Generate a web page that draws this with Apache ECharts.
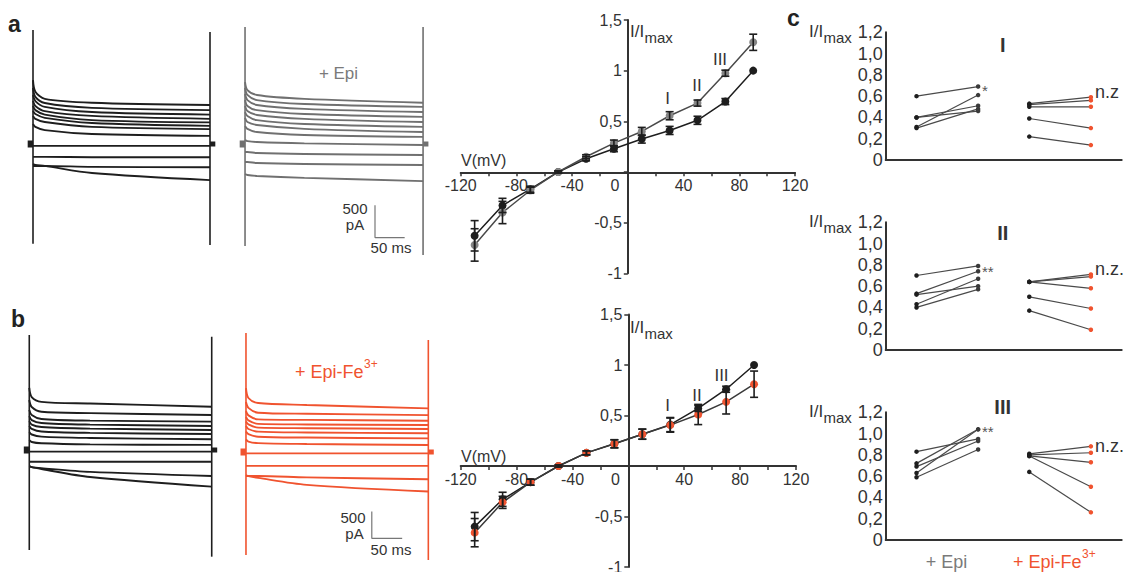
<!DOCTYPE html>
<html><head><meta charset="utf-8">
<script src="https://cdn.jsdelivr.net/npm/echarts@6/dist/echarts.min.js"></script>
<style>html,body{margin:0;padding:0;background:#fff}#c{width:1123px;height:572px}</style>
</head><body><div id="c"></div>
<script>
const FONT = '"Liberation Sans", Arial, Helvetica, sans-serif';

// ---------- I-V curves (normalised current I/Imax vs V in mV) ----------
const voltages = [-110, -90, -70, -50, -30, -10, 10, 30, 50, 70, 90];
const ivA_control    = [-0.63, -0.33, -0.17, 0.0, 0.13, 0.23, 0.325, 0.41, 0.51, 0.695, 1.0];
const ivA_controlErr = [0.15, 0.07, 0.03, 0.01, 0.02, 0.03, 0.04, 0.04, 0.04, 0.03, 0];
const ivA_epi        = [-0.72, -0.40, -0.18, 0.0, 0.15, 0.285, 0.40, 0.555, 0.68, 0.975, 1.28];
const ivA_epiErr     = [0.16, 0.11, 0.03, 0.01, 0.02, 0.03, 0.04, 0.04, 0.03, 0.03, 0.08];
const ivB_control    = [-0.60, -0.33, -0.16, 0.0, 0.13, 0.22, 0.315, 0.41, 0.57, 0.76, 1.0];
const ivB_controlErr = [0.14, 0.07, 0.03, 0.01, 0.02, 0.04, 0.05, 0.07, 0.03, 0.03, 0];
const ivB_fe         = [-0.66, -0.36, -0.16, 0.0, 0.13, 0.22, 0.315, 0.405, 0.51, 0.635, 0.81];
const ivB_feErr      = [0.14, 0.06, 0.03, 0.01, 0.02, 0.04, 0.05, 0.07, 0.10, 0.12, 0.13];

// ---------- current traces (pA) sampled at these times (ms) ----------
const traceTimes = [0, 4, 20, 100, 300];
const tracesA_control = [
  [990, 810, 700, 640, 605], [870, 730, 635, 560, 525], [760, 665, 575, 495, 455],
  [665, 590, 510, 435, 390], [590, 525, 455, 370, 335], [510, 465, 405, 325, 280],
  [435, 390, 340, 265, 230], [310, 265, 215, 155, 125], [-30, -30, -30, -30, -30],
  [-200, -200, -200, -205, -205], [-340, -340, -340, -355, -360], [-310, -325, -340, -450, -560]
];
const tracesA_epi = [
  [960, 835, 760, 700, 640], [870, 760, 680, 620, 575], [775, 680, 605, 545, 495],
  [680, 590, 525, 465, 420], [590, 510, 450, 390, 340], [495, 435, 370, 310, 265],
  [405, 340, 295, 235, 185], [280, 235, 185, 140, 110], [60, 45, 30, 10, -15],
  [-125, -125, -140, -155, -170], [-280, -280, -295, -310, -325], [-465, -480, -495, -525, -575]
];
const tracesB_control = [
  [1160, 990, 900, 870, 810], [935, 805, 715, 690, 655], [750, 655, 580, 550, 530],
  [635, 560, 505, 475, 450], [540, 475, 430, 400, 375], [450, 395, 345, 320, 300],
  [335, 290, 250, 225, 200], [185, 150, 125, 105, 95], [-30, -30, -30, -30, -30],
  [-220, -220, -220, -220, -220], [-300, -320, -340, -410, -485], [-300, -320, -355, -505, -685]
];
const tracesB_fe = [
  [1195, 1010, 915, 880, 815], [935, 825, 735, 715, 690], [765, 685, 610, 600, 585],
  [655, 590, 525, 515, 505], [570, 515, 455, 445, 430], [485, 430, 380, 365, 350],
  [385, 335, 285, 270, 255], [235, 195, 165, 150, 130], [-25, -25, -25, -25, -25],
  [-260, -260, -260, -260, -260], [-450, -450, -450, -475, -510], [-430, -450, -485, -615, -740]
];
// capacitive transients at step on (0 ms) and off (300 ms): [max, min] pA
const transA_control = [[1765, -1548], [1736, -1566]];
const transA_epi     = [[1814, -1581], [1814, -1721]];
const transB_control = [[2150, -1870], [2119, -1995]];
const transB_fe      = [[2225, -1926], [2094, -2020]];
const stepTimes = [0, 300];
const scaleBarMs = 50, scaleBarPA = 500;

// ---------- panel c: paired cells, I/Imax at the three voltages ----------
const cGroups = ['I', 'II', 'III'];
const cCategories = ['+ Epi', '+ Epi-Fe', '3+'];
const cI_epiBefore   = [0.60, 0.40, 0.40, 0.31, 0.30];
const cI_epiAfter    = [0.69, 0.51, 0.46, 0.61, 0.48];
const cI_feBefore    = [0.53, 0.52, 0.50, 0.39, 0.22];
const cI_feAfter     = [0.59, 0.56, 0.50, 0.30, 0.14];
const cII_epiBefore  = [0.70, 0.53, 0.52, 0.43, 0.40];
const cII_epiAfter   = [0.79, 0.74, 0.60, 0.67, 0.57];
const cII_feBefore   = [0.64, 0.64, 0.64, 0.50, 0.37];
const cII_feAfter    = [0.71, 0.69, 0.58, 0.39, 0.19];
const cIII_epiBefore = [0.83, 0.72, 0.69, 0.63, 0.59];
const cIII_epiAfter  = [0.95, 1.04, 0.93, 1.04, 0.85];
const cIII_feBefore  = [0.81, 0.80, 0.79, 0.79, 0.64];
const cIII_feAfter   = [0.88, 0.82, 0.73, 0.50, 0.26];
const cSignif = ['*', '**', '**'];
const cNZ = ['n.z', 'n.z.', 'n.z.'];

// ---------- layout / styles ----------
const BLACK = '#1e1e1e', GRAY = '#707070', ORANGE = '#f0532f', TXT = '#333';
const cPairX = [1, 2, 2.83, 3.83];

const grids = [
  {left: 27.1, top: 21.4, width: 188.8, height: 235.5},   // 0 trace a ctrl
  {left: 239.1, top: 21.4, width: 189.9, height: 235.5},  // 1 trace a epi
  {left: 23.2, top: 327, width: 194.6, height: 235.3},    // 2 trace b ctrl
  {left: 239.9, top: 329, width: 194.5, height: 235.3},   // 3 trace b fe
  {left: 460.7, top: 20, width: 334.3, height: 253.3},    // 4 IV a
  {left: 460.7, top: 314.5, width: 335.3, height: 252.5}, // 5 IV b
  {left: 885.7, top: 32.3, width: 236, height: 127.7},    // 6 c I
  {left: 885.7, top: 222.3, width: 236, height: 127.7},   // 7 c II
  {left: 885.7, top: 412.3, width: 236, height: 127.7}    // 8 c III
].map(g => Object.assign({outerBoundsMode: 'none', containLabel: false}, g));

const xAxes = [], yAxes = [];
const traceY = [[-1750, 1900], [-1750, 1900], [-2100, 2300], [-2100, 2300]];
for (let i = 0; i < 4; i++) {
  xAxes.push({gridIndex: i, type: 'value', min: -10, max: 310, show: false});
  yAxes.push({gridIndex: i, type: 'value', min: traceY[i][0], max: traceY[i][1], show: false});
}
const numFmt = v => String(v).replace('.', ',');
// the IV axes cross at the origin: shift each axis from the grid edge to the other axis' zero
const ivXOffset = [-101, -101], ivYOffset = [-167.1, -167.6];
for (let i = 4; i < 6; i++) {
  xAxes.push({
    gridIndex: i, type: 'value', min: -120, max: 120, interval: 20,
    position: 'bottom', offset: ivXOffset[i - 4],
    axisLine: {show: true, onZero: false, lineStyle: {color: TXT, width: 2}},
    axisTick: {show: true, length: 4, lineStyle: {color: TXT, width: 1.5}},
    splitLine: {show: false},
    axisLabel: {
      margin: 5, fontSize: 16, color: TXT, fontFamily: FONT,
      formatter: v => (v % 40 !== 0) ? '' : (v === 0 ? '{z|0}' : String(v)),
      rich: {z: {fontSize: 16, color: TXT, fontFamily: FONT, padding: [0, 26, 0, 0]}}
    }
  });
  yAxes.push({
    gridIndex: i, type: 'value', min: -1, max: 1.5, interval: 0.5,
    position: 'left', offset: ivYOffset[i - 4],
    axisLine: {show: true, onZero: false, lineStyle: {color: TXT, width: 2}},
    axisTick: {show: true, length: 4, lineStyle: {color: TXT, width: 1.5}},
    splitLine: {show: false},
    axisLabel: {margin: 6, fontSize: 16, color: TXT, fontFamily: FONT,
      formatter: v => v === 0 ? '' : numFmt(v)}
  });
}
for (let i = 6; i < 9; i++) {
  xAxes.push({gridIndex: i, type: 'value', min: 0.5, max: 4.33,
    axisLine: {show: true, onZero: false, lineStyle: {color: TXT, width: 2}},
    axisTick: {show: false}, axisLabel: {show: false}, splitLine: {show: false}});
  yAxes.push({gridIndex: i, type: 'value', min: 0, max: 1.2, interval: 0.2,
    axisLine: {show: true, lineStyle: {color: TXT, width: 2}},
    axisTick: {show: false}, splitLine: {show: false},
    axisLabel: {margin: 3, fontSize: 18, color: TXT, fontFamily: FONT,
      formatter: v => v === 0 ? '0' : v.toFixed(1).replace('.', ',')}});
}

const series = [];
function lineS(gi, data, color, width, extra) {
  series.push(Object.assign({type: 'line', xAxisIndex: gi, yAxisIndex: gi, data,
    symbol: 'none', silent: true, animation: false,
    lineStyle: {color, width}}, extra || {}));
}
function tracePanel(gi, traces, trans, color) {
  traces.forEach(tr => lineS(gi, traceTimes.map((t, k) => [t, tr[k]]), color, 1.9,
    {smooth: 0.3}));
  trans.forEach((tv, k) => lineS(gi, [[stepTimes[k], tv[0]], [stepTimes[k], tv[1]]], color, 1.6));
  lineS(gi, [[-9, 0], [stepTimes[0], 0]], color, 7);
  lineS(gi, [[stepTimes[1], 0], [309, 0]], color, 5);
}
tracePanel(0, tracesA_control, transA_control, BLACK);
tracePanel(1, tracesA_epi, transA_epi, GRAY);
tracePanel(2, tracesB_control, transB_control, BLACK);
tracePanel(3, tracesB_fe, transB_fe, ORANGE);
// scale bars
function scaleBar(gi, t0, p0) {
  lineS(gi, [[t0, p0 + scaleBarPA], [t0, p0], [t0 + scaleBarMs, p0]], '#777', 1.2);
}
scaleBar(1, 219, -1450);
scaleBar(3, 207, -1615);

function errRender(params, api) {
  const e = api.value(2);
  if (!e) return null;
  const x = api.value(0), y = api.value(1);
  const a = api.coord([x, y + e]), b = api.coord([x, y - e]);
  const st = {stroke: BLACK, lineWidth: 1.6};
  return {type: 'group', children: [
    {type: 'line', shape: {x1: a[0], y1: a[1], x2: b[0], y2: b[1]}, style: st},
    {type: 'line', shape: {x1: a[0] - 4, y1: a[1], x2: a[0] + 4, y2: a[1]}, style: st},
    {type: 'line', shape: {x1: b[0] - 4, y1: b[1], x2: b[0] + 4, y2: b[1]}, style: st}
  ]};
}
function ivS(gi, vals, errs, lineColor, markColor) {
  series.push({type: 'line', xAxisIndex: gi, yAxisIndex: gi, animation: false, silent: true,
    data: voltages.map((v, i) => [v, vals[i]]), symbol: 'circle', symbolSize: 8,
    itemStyle: {color: markColor}, lineStyle: {color: lineColor, width: 1.5}, z: 3});
  series.push({type: 'custom', xAxisIndex: gi, yAxisIndex: gi, animation: false, silent: true,
    data: voltages.map((v, i) => [v, vals[i], errs[i]]), renderItem: errRender, z: 4,
    encode: {x: 0, y: 1}});
}
ivS(4, ivA_control, ivA_controlErr, BLACK, BLACK);
ivS(4, ivA_epi, ivA_epiErr, '#4a4a4a', '#858585');
ivS(5, ivB_control, ivB_controlErr, BLACK, BLACK);
ivS(5, ivB_fe, ivB_feErr, '#3a3a3a', ORANGE);

function pairs(gi, x1, x2, before, after, cA) {
  before.forEach((b, i) => {
    series.push({type: 'line', xAxisIndex: gi, yAxisIndex: gi, animation: false, silent: true,
      symbol: 'circle', symbolSize: 4.5, lineStyle: {color: '#4a4a4a', width: 1.2},
      data: [{value: [x1, b], itemStyle: {color: BLACK}}, {value: [x2, after[i]], itemStyle: {color: cA}}]});
  });
}
pairs(6, cPairX[0], cPairX[1], cI_epiBefore, cI_epiAfter, '#3a3a3a');
pairs(6, cPairX[2], cPairX[3], cI_feBefore, cI_feAfter, ORANGE);
pairs(7, cPairX[0], cPairX[1], cII_epiBefore, cII_epiAfter, '#3a3a3a');
pairs(7, cPairX[2], cPairX[3], cII_feBefore, cII_feAfter, ORANGE);
pairs(8, cPairX[0], cPairX[1], cIII_epiBefore, cIII_epiAfter, '#3a3a3a');
pairs(8, cPairX[2], cPairX[3], cIII_feBefore, cIII_feAfter, ORANGE);

// ---------- text ----------
const graphic = [];
function T(text, x, y, o) {
  o = o || {};
  graphic.push({type: 'text', silent: true, z: 100, style: {
    text, x, y, fill: o.fill || TXT, fontSize: o.size || 16, fontFamily: FONT,
    fontWeight: o.weight || 'normal', align: o.align || 'left', verticalAlign: 'middle'}});
}
T('a', 8, 24, {size: 23, weight: 'bold', fill: '#222'});
T('b', 11, 319, {size: 23, weight: 'bold', fill: '#222'});
T('c', 787, 18, {size: 23, weight: 'bold', fill: '#222'});
T('+ Epi', 338.5, 73, {size: 17, fill: '#7a7a7a', align: 'center'});
T('+ Epi-Fe', 295, 372, {size: 18, fill: ORANGE});
T('3+', 364, 364, {size: 12, fill: ORANGE});
// scale bar labels
T('500', 355, 208, {size: 15, align: 'center'});
T('pA', 355, 224, {size: 15, align: 'center'});
T('50 ms', 391, 247.5, {size: 15, align: 'center'});
T('500', 353, 517, {size: 15, align: 'center'});
T('pA', 354.5, 533, {size: 15, align: 'center'});
T('50 ms', 391, 549, {size: 15, align: 'center'});
// IV labels
[[160, 31, 37], [456.7, 327, 333]].forEach(([vy, iy, my]) => {
  T('V(mV)', 461, vy, {size: 16});
  T('I/I', 630, iy, {size: 17});
  T('max', 644.5, my, {size: 15});
});
T('I', 667.7, 98, {size: 17, align: 'center'});
T('II', 697, 85, {size: 17, align: 'center'});
T('III', 720, 59, {size: 17, align: 'center'});
T('I', 667.7, 405, {size: 17, align: 'center'});
T('II', 697, 395, {size: 17, align: 'center'});
T('III', 721.5, 375, {size: 17, align: 'center'});
// panel c labels
const cTop = [32.3, 222.3, 412.3];
const cRomanY = [45, 232.7, 406.7];
const cStarY = [90, 271, 431];
const cNZY = [92, 268.5, 446];
cTop.forEach((ty, i) => {
  T('I/I', 809, ty - 1, {size: 17});
  T('max', 823.5, ty + 5, {size: 15});
  T(cGroups[i], 1002.7, cRomanY[i], {size: 20, weight: 'bold', align: 'center'});
  T(cSignif[i], 982, cStarY[i], {size: 15, fill: '#555'});
  T(cNZ[i], 1095, cNZY[i], {size: 18});
});
T(cCategories[0], 946.5, 562, {size: 18, fill: '#7a7a7a', align: 'center'});
T(cCategories[1], 1013, 562, {size: 18, fill: ORANGE});
T(cCategories[2], 1082, 554, {size: 12, fill: ORANGE});

const chart = echarts.init(document.getElementById('c'), null, {renderer: 'svg'});
chart.setOption({
  animation: false, backgroundColor: '#fff',
  grid: grids, xAxis: xAxes, yAxis: yAxes, series, graphic
});
</script></body></html>
